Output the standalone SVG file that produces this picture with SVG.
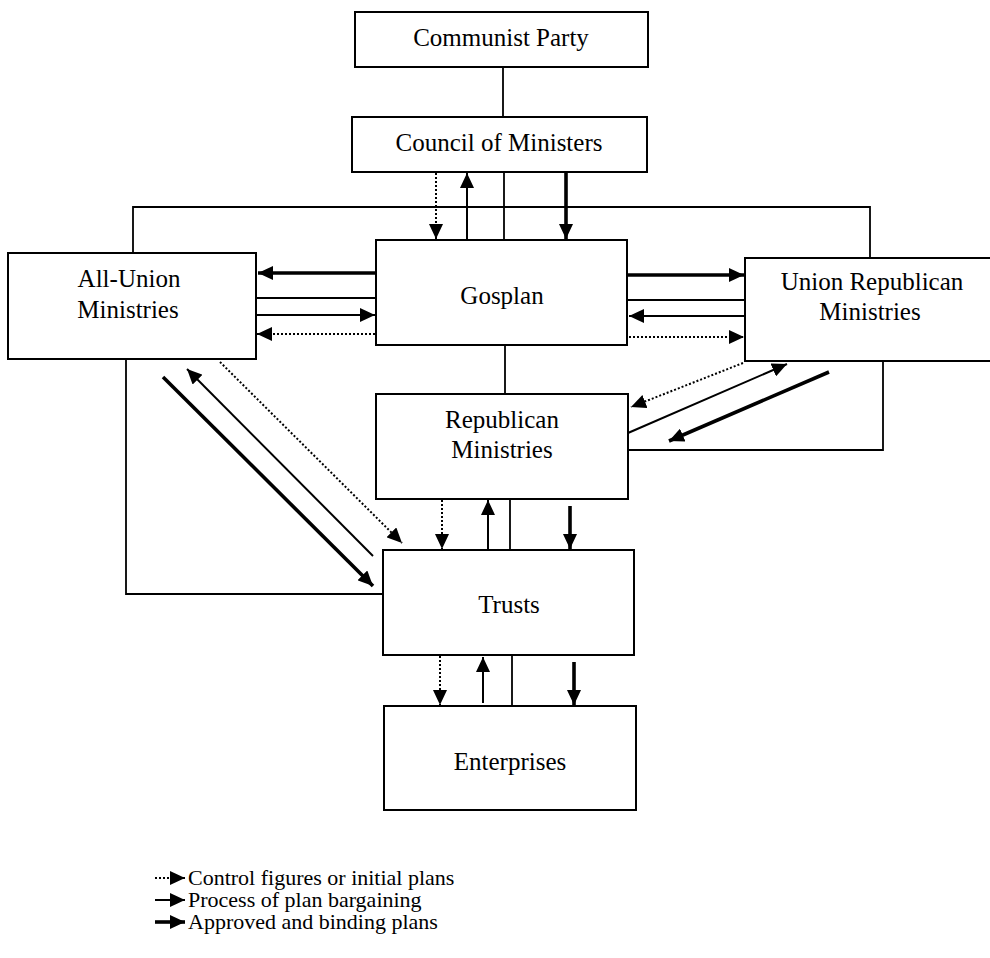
<svg xmlns="http://www.w3.org/2000/svg" width="990" height="958" viewBox="0 0 990 958">
  <style>
    .box { fill: #ffffff; stroke: #000000; stroke-width: 2; }
    .lbl { font-family: "Liberation Serif", "Times New Roman", serif; font-size: 25px; fill: #000000; text-anchor: middle; }
    .leg { font-family: "Liberation Serif", "Times New Roman", serif; font-size: 22px; fill: #000000; }
    .link { fill: none; stroke: #000000; stroke-width: 1.8; }
    .dot { fill: none; stroke: #000000; stroke-width: 2; stroke-dasharray: 2 2; marker-end: url(#head); }
    .thin { fill: none; stroke: #000000; stroke-width: 2; marker-end: url(#head); }
    .thick { fill: none; stroke: #000000; stroke-width: 3.6; marker-end: url(#head); }
  </style>
  <defs>
    <marker id="head" viewBox="0 0 15 14" refX="15" refY="7" markerWidth="15" markerHeight="14" markerUnits="userSpaceOnUse" orient="auto">
      <path d="M0,0 L15,7 L0,14 z" fill="#000000"/>
    </marker>
  </defs>

  <rect width="990" height="958" fill="#ffffff"/>

  <!-- connectors -->
  <g id="connectors">
    <!-- hierarchy lines -->
    <path class="link" d="M503,67 V117"/>
    <path class="link" d="M504,172 V240"/>
    <path class="link" d="M133,253 V207 H870 V258"/>
    <path class="link" d="M505,345 V394"/>
    <path class="link" d="M126,359 V594 H383"/>
    <path class="link" d="M883,362 V450 H628"/>
    <path class="link" d="M510,499 V550"/>
    <path class="link" d="M512,655 V706"/>
    <path class="link" d="M256,298 H376"/>
    <path class="link" d="M627,300 H745"/>

    <!-- Council of Ministers / Gosplan -->
    <path class="dot" d="M436,173 V239"/>
    <path class="thin" d="M467,240 V173"/>
    <path class="thick" d="M566,172 V239"/>

    <!-- Gosplan / All-Union Ministries -->
    <path class="thick" d="M376,273 H258"/>
    <path class="thin" d="M256,315 H375"/>
    <path class="dot" d="M375,334 H257"/>

    <!-- Gosplan / Union Republican Ministries -->
    <path class="thick" d="M627,275 H744"/>
    <path class="thin" d="M745,316 H629"/>
    <path class="dot" d="M629,337 H744"/>

    <!-- All-Union Ministries / Trusts -->
    <path class="thick" d="M163,377 L373,586"/>
    <path class="thin" d="M373,556 L187,369"/>
    <path class="dot" d="M220,362 L402,543"/>

    <!-- Union Republican Ministries / Republican Ministries -->
    <path class="dot" d="M743,363 L631,407"/>
    <path class="thin" d="M628,433 L787,364"/>
    <path class="thick" d="M829,372 L669,441"/>

    <!-- Republican Ministries / Trusts -->
    <path class="dot" d="M442,500 V549"/>
    <path class="thin" d="M488,550 V500"/>
    <path class="thick" d="M570,506 V549"/>

    <!-- Trusts / Enterprises -->
    <path class="dot" d="M440,656 V705"/>
    <path class="thin" d="M483,703 V657"/>
    <path class="thick" d="M574,662 V705"/>
  </g>

  <!-- nodes -->
  <g id="communist-party">
    <rect class="box" x="355" y="12" width="293" height="55"/>
    <text class="lbl" x="501" y="46">Communist Party</text>
  </g>
  <g id="council-of-ministers">
    <rect class="box" x="352" y="117" width="295" height="55"/>
    <text class="lbl" x="499" y="151">Council of Ministers</text>
  </g>
  <g id="gosplan">
    <rect class="box" x="376" y="240" width="251" height="105"/>
    <text class="lbl" x="502" y="304">Gosplan</text>
  </g>
  <g id="all-union-ministries">
    <rect class="box" x="8" y="253" width="248" height="106"/>
    <text class="lbl" x="129" y="287">All-Union</text>
    <text class="lbl" x="128" y="318">Ministries</text>
  </g>
  <g id="union-republican-ministries">
    <rect class="box" x="745" y="258" width="250" height="103"/>
    <text class="lbl" x="872" y="290">Union Republican</text>
    <text class="lbl" x="870" y="320">Ministries</text>
  </g>
  <g id="republican-ministries">
    <rect class="box" x="376" y="394" width="252" height="105"/>
    <text class="lbl" x="502" y="428">Republican</text>
    <text class="lbl" x="502" y="458">Ministries</text>
  </g>
  <g id="trusts">
    <rect class="box" x="383" y="550" width="251" height="105"/>
    <text class="lbl" x="509" y="613">Trusts</text>
  </g>
  <g id="enterprises">
    <rect class="box" x="384" y="706" width="252" height="104"/>
    <text class="lbl" x="510" y="770">Enterprises</text>
  </g>

  <!-- legend -->
  <g id="legend">
    <path class="dot" d="M155,878 H185" stroke-width="1.4"/>
    <path class="thin" d="M155,900 H185"/>
    <path class="thick" d="M155,922 H185"/>
    <text class="leg" x="188" y="885">Control figures or initial plans</text>
    <text class="leg" x="188" y="907">Process of plan bargaining</text>
    <text class="leg" x="188" y="929">Approved and binding plans</text>
  </g>
</svg>
